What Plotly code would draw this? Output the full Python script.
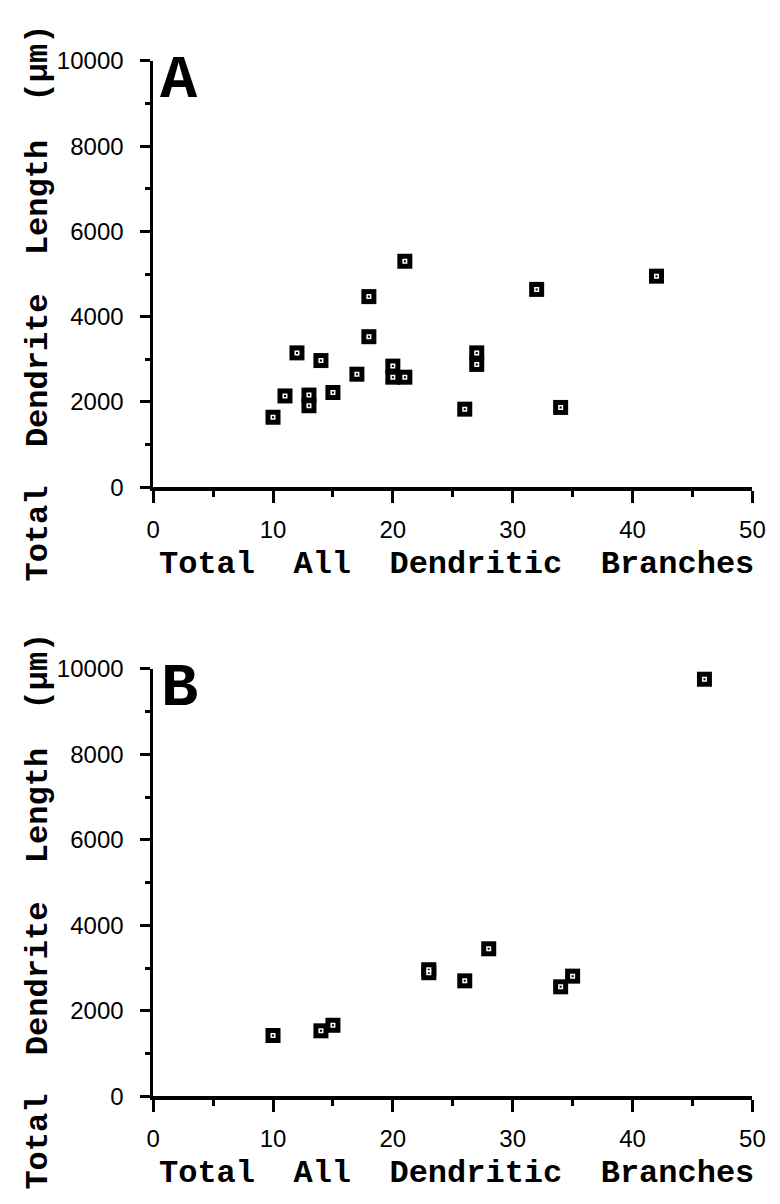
import plotly.graph_objects as go

# Panel A data
a_branches = [10, 11, 12, 13, 13, 14, 15, 17, 18, 18, 20, 20, 21, 21, 26, 27, 27, 32, 34, 42]
a_length = [1640, 2140, 3150, 2160, 1910, 2970, 2220, 2650, 3530, 4470, 2840, 2580, 2580, 5300, 1830, 3150, 2880, 4640, 1870, 4950]

# Panel B data
b_branches = [10, 14, 15, 23, 23, 26, 28, 34, 35, 46]
b_length = [1420, 1530, 1660, 2890, 2960, 2700, 3450, 2560, 2810, 9760]

x_ticks = [0, 10, 20, 30, 40, 50]
y_ticks = [0, 2000, 4000, 6000, 8000, 10000]
panel_labels = ["A", "B"]
x_title = "Total\u00a0\u00a0All\u00a0\u00a0Dendritic\u00a0\u00a0Branches"
y_title = "Total\u00a0\u00a0Dendrite\u00a0\u00a0Length\u00a0\u00a0(\u00b5m)"

W, H = 780, 1204
mono = "Liberation Mono, Courier New, monospace"
sans = "Liberation Sans, Arial, sans-serif"

fig = go.Figure()

for i, (xs, ys) in enumerate([(a_branches, a_length), (b_branches, b_length)]):
    xa = "x" if i == 0 else "x2"
    ya = "y" if i == 0 else "y2"
    fig.add_trace(go.Scatter(x=xs, y=ys, mode="markers", xaxis=xa, yaxis=ya,
                             marker=dict(symbol="square", size=15, color="black",
                                         line=dict(width=0)),
                             cliponaxis=False, showlegend=False, hoverinfo="x+y"))
    fig.add_trace(go.Scatter(x=xs, y=ys, mode="markers", xaxis=xa, yaxis=ya,
                             marker=dict(symbol="square-open", size=3.5, color="white",
                                         line=dict(width=1.5, color="white")),
                             cliponaxis=False, showlegend=False, hoverinfo="skip"))

xdom = [150 / W, 765 / W]
ydomA = [1 - 484 / H, 1 - 48 / H]
ydomB = [1 - 1107 / H, 1 - 670 / H]

def xax(dom_anchor):
    return dict(domain=xdom, anchor=dom_anchor, range=[0, 50], tickmode="array",
                tickvals=x_ticks, ticktext=[str(v) for v in x_ticks],
                showline=True, linecolor="black", linewidth=3.5,
                ticks="outside", ticklen=12, tickwidth=2.5, tickcolor="black",
                minor=dict(dtick=5, tick0=0, ticks="outside", ticklen=6,
                           tickwidth=2.5, tickcolor="black"),
                showgrid=False, zeroline=False, ticklabelstandoff=6,
                tickfont=dict(family=sans, size=24, color="black"))

def yax(dom, anchor):
    return dict(domain=dom, anchor=anchor, range=[0, 10000], tickmode="array",
                tickvals=y_ticks, ticktext=[str(v) for v in y_ticks],
                showline=True, linecolor="black", linewidth=2.5,
                ticks="outside", ticklen=10, tickwidth=2.5, tickcolor="black",
                minor=dict(dtick=1000, tick0=0, ticks="outside", ticklen=5,
                           tickwidth=2.5, tickcolor="black"),
                showgrid=False, zeroline=False, ticklabelstandoff=12,
                tickfont=dict(family=sans, size=24, color="black"))

fig.update_layout(
    width=W, height=H,
    margin=dict(l=0, r=0, t=0, b=0),
    paper_bgcolor="white", plot_bgcolor="white",
    xaxis=xax("y"), yaxis=yax(ydomA, "x"),
    xaxis2=xax("y2"), yaxis2=yax(ydomB, "x2"),
)

title_font = dict(family=mono, size=32, color="black", weight="bold")
annots = []
# x titles
for axis_y in [484, 1107]:
    annots.append(dict(text=x_title, xref="paper", yref="paper",
                       x=461 / W, y=1 - (axis_y + 79) / H, xanchor="center", yanchor="middle",
                       showarrow=False, font=title_font))
# y titles
for cy in [296, 918]:
    annots.append(dict(text=y_title, xref="paper", yref="paper", textangle=-90,
                       x=32 / W, y=1 - cy / H, xanchor="center", yanchor="middle",
                       showarrow=False, font=title_font))
# panel letters
for lab, top in zip(panel_labels, [48, 670]):
    annots.append(dict(text=lab, xref="paper", yref="paper",
                       x=177 / W, y=1 - (top + 20) / H, xanchor="center", yanchor="middle",
                       showarrow=False, font=dict(family=mono, size=62, color="black", weight="bold")))
fig.update_layout(annotations=annots)

fig.write_html("out.html")
